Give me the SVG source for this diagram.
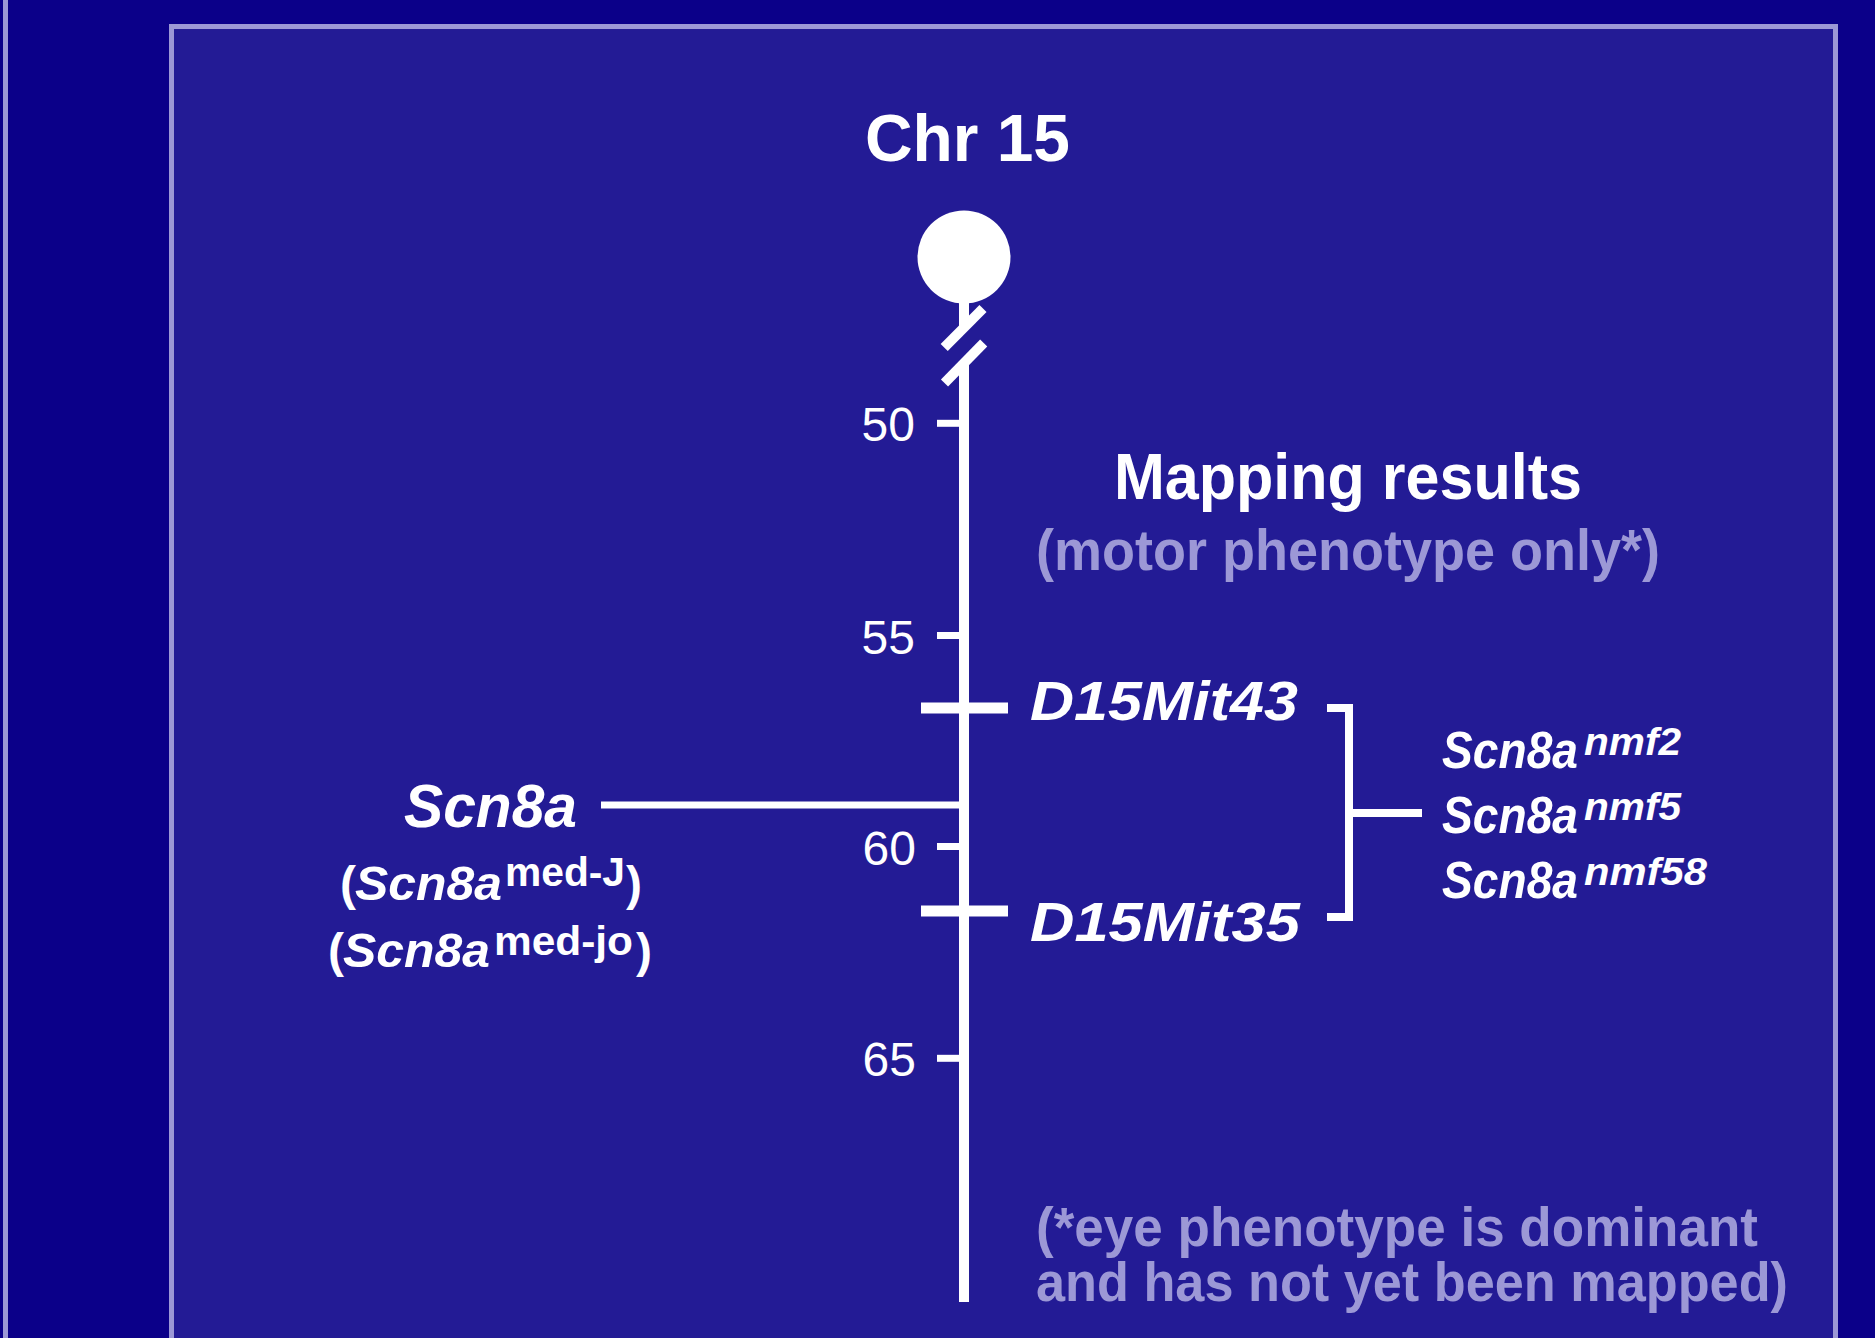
<svg xmlns="http://www.w3.org/2000/svg" width="1875" height="1338" viewBox="0 0 1875 1338">
<style>
.w{fill:#ffffff;font-family:"Liberation Sans",Arial,sans-serif}
.b{font-weight:bold}
.i{font-style:italic}
.dim{fill:#9c98d6;font-family:"Liberation Sans",Arial,sans-serif;font-weight:bold}
.num{fill:#ffffff;font-family:"Liberation Sans",Arial,sans-serif;font-size:48px;text-anchor:end}
.ln{stroke:#ffffff;fill:none}
</style>
<rect x="0" y="0" width="1875" height="1338" fill="#0b0089"/>
<rect x="3" y="0" width="5" height="1338" fill="#9c98d6"/>
<rect x="171.5" y="26.5" width="1664" height="1400" fill="#231b95" stroke="#9c98d6" stroke-width="5"/>

<g id="title">
<text class="w b" x="865" y="161" font-size="66" textLength="205" lengthAdjust="spacingAndGlyphs">Chr 15</text>
</g>

<g id="chromosome">
<circle cx="964" cy="257" r="46.5" fill="#ffffff"/>
<line class="ln" x1="964" y1="290" x2="964" y2="327" stroke-width="10"/>
<line class="ln" x1="944.2" y1="347.5" x2="983" y2="308.5" stroke-width="10"/>
<line class="ln" x1="944.5" y1="383" x2="983.7" y2="343" stroke-width="10"/>
<line class="ln" x1="964" y1="362" x2="964" y2="1302" stroke-width="10"/>
</g>

<g id="scale">
<line class="ln" x1="937" y1="423.3" x2="964" y2="423.3" stroke-width="7"/>
<line class="ln" x1="937" y1="635.5" x2="964" y2="635.5" stroke-width="7"/>
<line class="ln" x1="937" y1="846.5" x2="964" y2="846.5" stroke-width="7"/>
<line class="ln" x1="937" y1="1058.3" x2="964" y2="1058.3" stroke-width="7"/>
<text class="num" x="915" y="441">50</text>
<text class="num" x="915" y="653.5">55</text>
<text class="num" x="916" y="864.5">60</text>
<text class="num" x="916" y="1076">65</text>
</g>

<g id="marker-d15mit43">
<line class="ln" x1="921" y1="708" x2="1008" y2="708" stroke-width="11"/>
<text class="w b i" x="1030" y="720" font-size="56" textLength="268" lengthAdjust="spacingAndGlyphs">D15Mit43</text>
</g>

<g id="marker-d15mit35">
<line class="ln" x1="921" y1="911" x2="1008" y2="911" stroke-width="11"/>
<text class="w b i" x="1030" y="941" font-size="56" textLength="270" lengthAdjust="spacingAndGlyphs">D15Mit35</text>
</g>

<g id="gene-scn8a">
<text class="w b i" x="404" y="827" font-size="62" textLength="173" lengthAdjust="spacingAndGlyphs">Scn8a</text>
<text class="w b" x="340" y="900" font-size="48">(<tspan class="i" x="355" textLength="147" lengthAdjust="spacingAndGlyphs">Scn8a</tspan><tspan x="505" dy="-14" font-size="41" textLength="120" lengthAdjust="spacingAndGlyphs">med-J</tspan><tspan x="626" dy="14">)</tspan></text>
<text class="w b" x="328" y="967" font-size="48">(<tspan class="i" x="343" textLength="147" lengthAdjust="spacingAndGlyphs">Scn8a</tspan><tspan x="494" dy="-12" font-size="41" textLength="139" lengthAdjust="spacingAndGlyphs">med-jo</tspan><tspan x="636" dy="12">)</tspan></text>
</g>

<g id="mapping-title">
<text class="w b" x="1114" y="499" font-size="64" textLength="468" lengthAdjust="spacingAndGlyphs">Mapping results</text>
<text class="dim" x="1036" y="570" font-size="57" textLength="624" lengthAdjust="spacingAndGlyphs">(motor phenotype only*)</text>
</g>

<g id="alleles">
<text class="w b i" x="1442" y="768" font-size="52"><tspan textLength="136" lengthAdjust="spacingAndGlyphs">Scn8a</tspan><tspan x="1584" dy="-13" font-size="38" textLength="97" lengthAdjust="spacingAndGlyphs">nmf2</tspan></text>
<text class="w b i" x="1442" y="833" font-size="52"><tspan textLength="136" lengthAdjust="spacingAndGlyphs">Scn8a</tspan><tspan x="1584" dy="-13" font-size="38" textLength="97" lengthAdjust="spacingAndGlyphs">nmf5</tspan></text>
<text class="w b i" x="1442" y="898" font-size="52"><tspan textLength="136" lengthAdjust="spacingAndGlyphs">Scn8a</tspan><tspan x="1584" dy="-13" font-size="38" textLength="123" lengthAdjust="spacingAndGlyphs">nmf58</tspan></text>
</g>

<g id="footnote">
<text class="dim" x="1036" y="1246" font-size="55" textLength="722" lengthAdjust="spacingAndGlyphs">(*eye phenotype is dominant</text>
<text class="dim" x="1036" y="1301" font-size="55" textLength="752" lengthAdjust="spacingAndGlyphs">and has not yet been mapped)</text>
</g>

<g id="connectors">
<line class="ln" x1="601" y1="805" x2="964" y2="805" stroke-width="7"/>
<polyline class="ln" points="1327,708 1349,708 1349,917 1327,917" stroke-width="8"/>
<line class="ln" x1="1349" y1="813" x2="1422" y2="813" stroke-width="8"/>
</g>
</svg>
